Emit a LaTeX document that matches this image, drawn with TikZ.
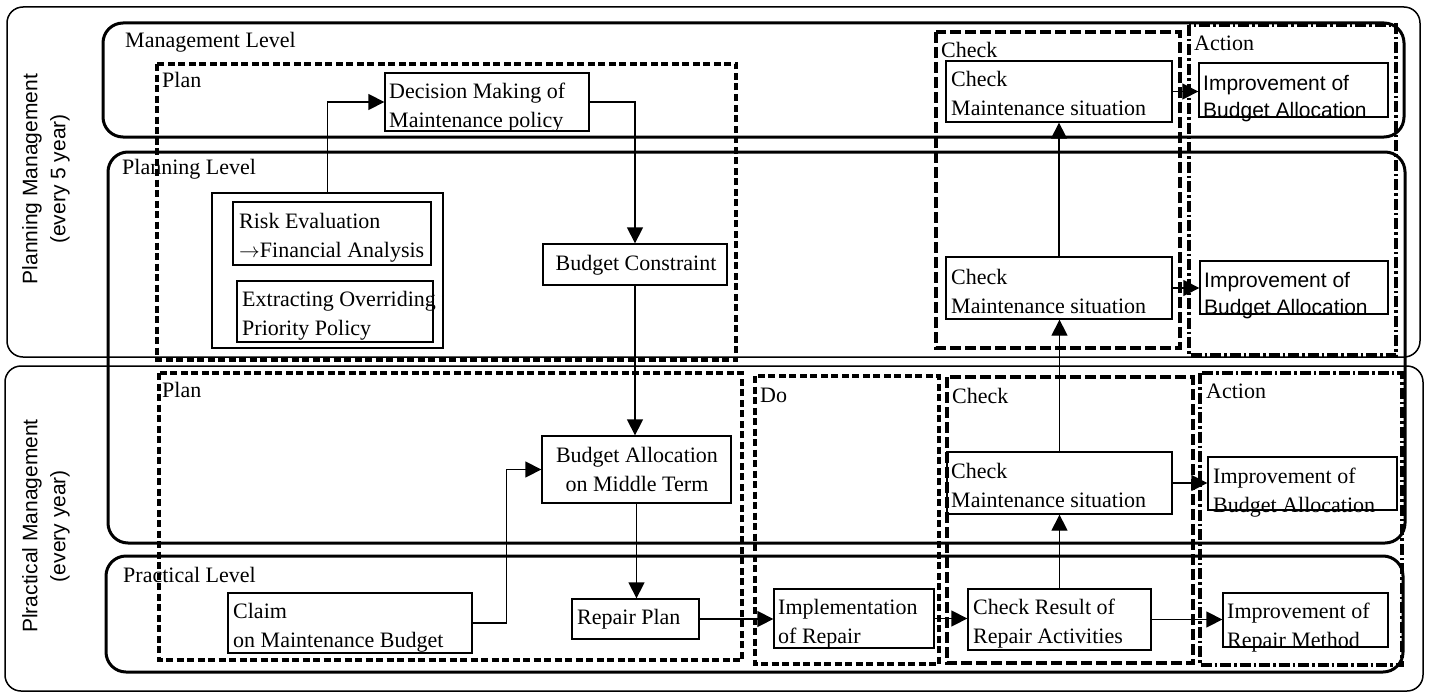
\documentclass[tikz,border=0pt]{standalone}
\usepackage{fontspec}
\setmainfont{Liberation Serif}
\newfontfamily\sansf{Liberation Sans}
\usetikzlibrary{arrows.meta,fit}
\begin{document}
\begin{tikzpicture}[x=1pt,y=-1pt,
  outerbox/.style={line width=1.5pt, rounded corners=16pt},
  levelbox/.style={line width=3pt, rounded corners=20pt},
  plandash/.style={line width=3.5pt, dash pattern=on 7pt off 3.5pt},
  checkdash/.style={line width=3.5pt, dash pattern=on 11pt off 4pt},
  actiondash/.style={line width=3.5pt, dash pattern=on 11pt off 3pt on 2.5pt off 3pt},
  box/.style={draw, line width=1.3pt, inner sep=0pt},
  txt/.style={anchor=base west, inner sep=0pt, align=left, font=\fontsize{22}{29}\selectfont},
  ctxt/.style={anchor=base, inner sep=0pt, align=center, font=\fontsize{22}{29}\selectfont},
  stxt/.style={anchor=base west, inner sep=0pt, align=left, font=\sansf\fontsize{21}{27}\selectfont},
  sidelab/.style={rotate=90, inner sep=0pt, align=center, font=\sansf\fontsize{21}{28}\selectfont},
  conn/.style={line width=1.3pt, -{Triangle[length=16pt,width=16pt]}}
]
\useasboundingbox (0,0) rectangle (1429,693);
% management frames
\draw[outerbox] (7,7) rectangle (1420,357);
\draw[outerbox] (5,366) rectangle (1423,691);
\node[sidelab] (pmlab) at (46,179) {Planning Management\\(every 5 year)};
\node[sidelab] (prlab) at (46,526) {Plractical Management\\(every year)};
% levels
\draw[levelbox] (103,23) rectangle (1404,137);
\draw[levelbox] (108,152) rectangle (1405,543);
\draw[levelbox] (106,556) rectangle (1403,672);
\node[txt] (lmgmt) at (125,48) {Management Level};
\node[txt] (lplan) at (122,174) {Planning Level};
\node[txt] (lprac) at (123,582) {Practical Level};
% PDCA frames
\draw[plandash] (157,64) rectangle (736,360);
\draw[plandash] (159,373) rectangle (742,660);
\draw[plandash] (755,376) rectangle (939,664);
\draw[checkdash] (936,32) rectangle (1180,348);
\draw[checkdash] (947,377) rectangle (1193,663);
\draw[actiondash] (1189,25) rectangle (1396,355);
\draw[actiondash] (1200,373) rectangle (1402,665);
\node[txt] (tplan1) at (162,88) {Plan};
\node[txt] (tplan2) at (162,397) {Plan};
\node[txt] (tdo) at (760,402) {Do};
\node[txt] (tcheck1) at (941,57) {Check};
\node[txt] (taction1) at (1194,51) {Action};
\node[txt] (tcheck2) at (952,403) {Check};
\node[txt] (taction2) at (1206,398) {Action};
% boxes
\node[box, fit={(385,73) (589,131)}] (dec) {};
\node[txt] at (389,127) {Decision Making of\\Maintenance policy};
\node[box, fit={(212,193) (443,348)}] (grp) {};
\node[box, fit={(233,202) (431,265)}] (risk) {};
\node[txt] at (239,257) {Risk Evaluation\\$\rightarrow$Financial Analysis};
\node[box, fit={(237,281) (433,342)}] (extr) {};
\node[txt] at (242,335) {Extracting Overriding\\Priority Policy};
\node[box, fit={(543,244) (727,285)}] (bcon) {};
\node[ctxt] at (636,270) {Budget Constraint};
\node[box, fit={(542,436) (731,503)}] (balloc) {};
\node[ctxt] at (637,491) {Budget Allocation\\on Middle Term};
\node[box, fit={(572,599) (699,639)}] (rplan) {};
\node[txt] at (577,624) {Repair Plan};
\node[box, fit={(228,593) (472,653)}] (claim) {};
\node[txt] at (233,647) {Claim\\on Maintenance Budget};
\node[box, fit={(774,589) (934,648)}] (impl) {};
\node[txt] at (778,643) {Implementation\\of Repair};
\node[box, fit={(968,589) (1151,650)}] (cres) {};
\node[txt] at (973,643) {Check Result of\\Repair Activities};
\node[box, fit={(1223,593) (1388,647)}] (imprm) {};
\node[txt] at (1227,647) {Improvement of\\Repair Method};
\node[box, fit={(946,61) (1172,122)}] (cm1) {};
\node[txt] at (951,115) {Check\\Maintenance situation};
\node[box, fit={(946,257) (1172,319)}] (cm2) {};
\node[txt] at (951,313) {Check\\Maintenance situation};
\node[box, fit={(947,452) (1172,514)}] (cm3) {};
\node[txt] at (951,507) {Check\\Maintenance situation};
\node[box, fit={(1199,63) (1388,117)}] (ib1) {};
\node[stxt] at (1203,117) {Improvement of\\Budget Allocation};
\node[box, fit={(1200,261) (1388,314)}] (ib2) {};
\node[stxt] at (1204,314) {Improvement of\\Budget Allocation};
\node[box, fit={(1208,457) (1397,510)}] (ib3) {};
\node[txt] at (1213,512) {Improvement of\\Budget Allocation};
% connectors
\draw[conn] (grp.north) |- (dec.west);
\draw[conn] (dec.east) -| (bcon.north);
\draw[conn] (bcon.south) -- (bcon.south |- balloc.north);
\draw[conn] (balloc.south) -- (balloc.south |- rplan.north);
\draw[conn] (claim.east) -- ++(34,0) |- (balloc.west);
\draw[conn] (rplan.east) -- (rplan.east -| impl.west);
\draw[conn] (impl.east) -- (impl.east -| cres.west);
\draw[conn] (cres.east) -- (cres.east -| imprm.west);
\draw[conn] (cres.north) -- (cres.north |- cm3.south);
\draw[conn] (cm3.north) -- (cm3.north |- cm2.south);
\draw[conn] (cm2.north) -- (cm2.north |- cm1.south);
\draw[conn] (cm1.east) -- (cm1.east -| ib1.west);
\draw[conn] (cm2.east) -- (cm2.east -| ib2.west);
\draw[conn] (cm3.east) -- (cm3.east -| ib3.west);
\end{tikzpicture}
\end{document}
